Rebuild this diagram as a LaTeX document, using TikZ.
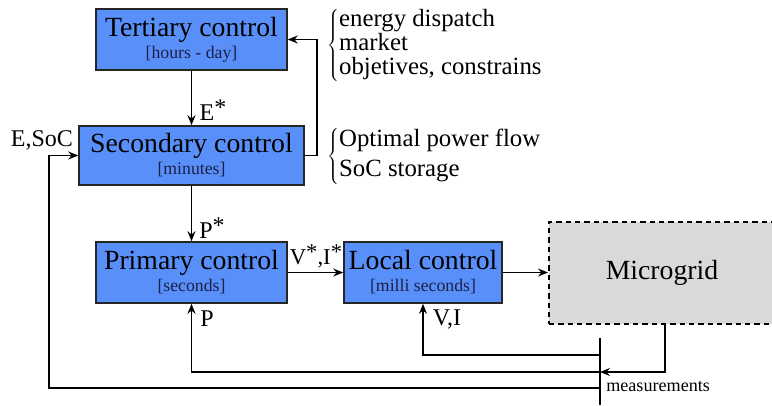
\documentclass[tikz,border=0pt]{standalone}
\usepackage{fontspec}
\setmainfont{Liberation Serif}
\usetikzlibrary{arrows.meta}
\definecolor{ctrlblue}{RGB}{88,143,248}
\definecolor{gridgray}{RGB}{217,217,217}
\definecolor{subnavy}{RGB}{28,32,72}
\newcommand{\subtxt}[1]{{\color{subnavy}\fontsize{13.3}{14}\selectfont #1}}
\newcommand{\starup}{\raisebox{0.5ex}{*}}
\tikzset{
  ctrl/.style={draw=black!85, line width=1.2pt, fill=ctrlblue, align=center, inner sep=0pt, font=\fontsize{20.8}{16.5}\selectfont},
  sig/.style={line width=1.15pt, -{Stealth[length=7.5pt,width=6pt,inset=2.5pt]}},
  wire/.style={line width=1.15pt},
  lbl/.style={inner sep=0.75pt, font=\fontsize{18}{20}\selectfont},
  note/.style={inner sep=0pt, anchor=west, font=\fontsize{18.6}{17}\selectfont},
}
\begin{document}
\begin{tikzpicture}[x=0.75pt,y=0.75pt,yscale=-1,xscale=1]
\useasboundingbox (0,0) rectangle (772,405);

%Shape: Rectangle [id:tert]
\node[ctrl, minimum width=143.25pt, minimum height=45.75pt] (tert) at (191.5,39.5) {Tertiary control\\\subtxt{[hours - day]}};
%Shape: Rectangle [id:sec]
\node[ctrl, minimum width=168.75pt, minimum height=44.25pt] (sec) at (191.5,155.5) {Secondary control\\\subtxt{[minutes]}};
%Shape: Rectangle [id:prim]
\node[ctrl, minimum width=143.25pt, minimum height=45.75pt] (prim) at (191.5,272.5) {Primary control\\\subtxt{[seconds]}};
%Shape: Rectangle [id:loc]
\node[ctrl, minimum width=118.5pt, minimum height=45.75pt] (loc) at (423,272.5) {Local control\\\subtxt{[milli seconds]}};
%Shape: Rectangle [id:mg]
\node[draw, line width=1.5pt, dash pattern={on 4pt off 3pt}, fill=gridgray, minimum width=169.5pt, minimum height=76.5pt, font=\fontsize{20.8}{16}\selectfont] (mg) at (662,273) {Microgrid};

%Straight Lines [id:bar]
\coordinate (bartop) at (600,338);
\coordinate (barbot) at (600,405);
\draw[wire] (bartop) -- (barbot);
\coordinate (mvi) at (600,355);
\coordinate (mp) at (600,372);
\coordinate (mes) at (600,388);

%Straight Lines [id:down]
\draw[sig] (tert) -- (sec);
\draw[sig] (sec) -- (prim);
\draw[sig] (prim) -- (loc);
\draw[sig] (loc.east) -- (loc.east -| mg.west);
%Straight Lines [id:feedback]
\draw[sig] (sec.east) -- ++(12,0) |- (tert.east);
\draw[sig] ([xshift=2.25pt]mg.south) |- (mp);
\draw[sig] (mvi) -| (loc.south);
\draw[sig] (mp) -| (prim.south);
\draw[sig] (mes) -| ([xshift=-21.75pt]sec.west) -- (sec.west);

% Text Node
\node[lbl] (estar) at (213,110) {E\starup};
% Text Node
\node[lbl] (pstar) at (212,228) {P\starup};
% Text Node
\node[lbl, font=\fontsize{17}{19}\selectfont] (vistar) at (316,256) {V\starup,I\starup};
% Text Node
\node[lbl] (pmeas) at (207,319) {P};
% Text Node
\node[lbl] (vimeas) at (447,319) {V,I};
% Text Node
\node[lbl] (esoc) at (42,140) {E,SoC};
% Text Node
\node[inner sep=0.75pt, anchor=west, font=\fontsize{13.6}{15}\selectfont] (meas) at (605,386) {measurements};
% Text Node
\node[note] (tertnote) at (327,45) {$\left\{\begin{tabular}{@{}l@{}}energy dispatch\\market\\objetives, constrains\end{tabular}\right.$};
% Text Node
\node[note] (secnote) at (327,156) {$\left\{\begin{tabular}{@{}l@{}}Optimal power flow\\[5pt]SoC storage\end{tabular}\right.$};

\end{tikzpicture}
\end{document}
